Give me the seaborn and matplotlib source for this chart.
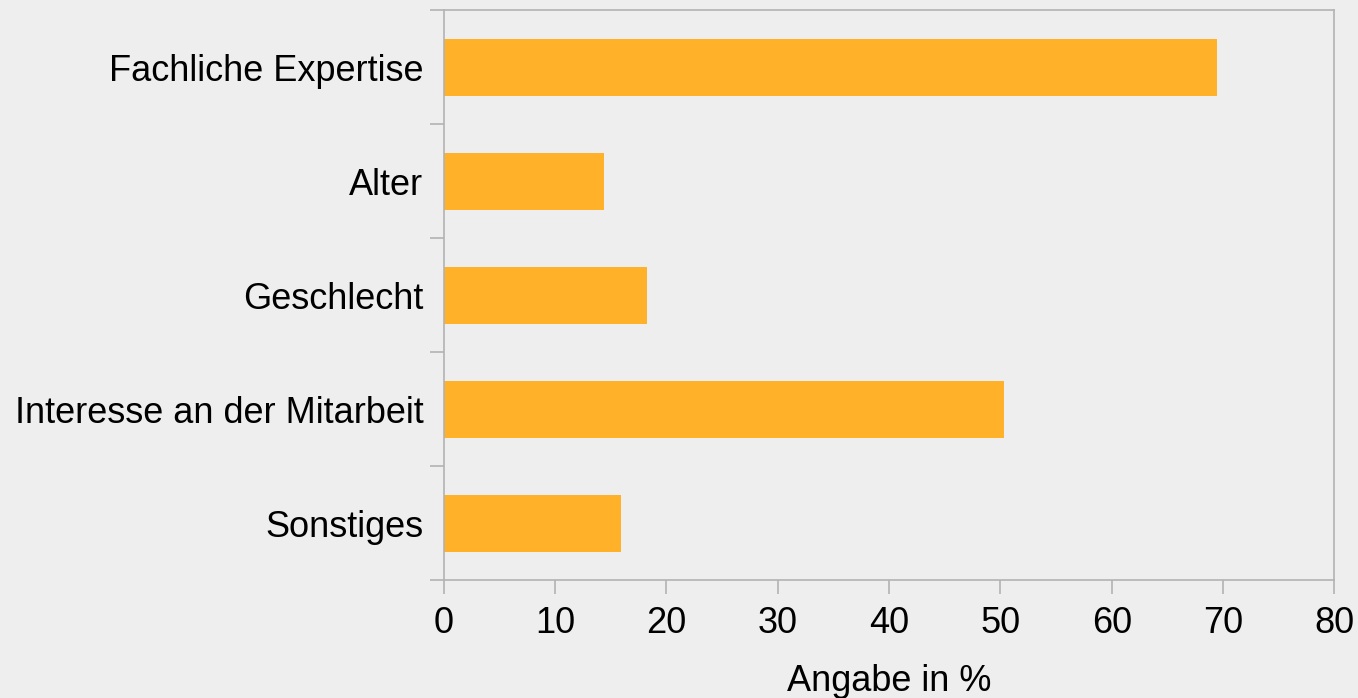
import matplotlib
matplotlib.use("Agg")
import matplotlib.pyplot as plt
import seaborn as sns
import pandas as pd
import numpy as np

categories = ["Fachliche Expertise", "Alter", "Geschlecht", "Interesse an der Mitarbeit", "Sonstiges"]
values = [69.5, 14.4, 18.3, 50.3, 15.9]
xticks = [0, 10, 20, 30, 40, 50, 60, 70, 80]

sns.set_theme(style="white")
plt.rcParams["font.family"] = ["Liberation Sans", "DejaVu Sans"]

df = pd.DataFrame({"cat": categories, "val": values})

fig = plt.figure(figsize=(13.58, 6.98), dpi=100, facecolor="#eeeeee")
ax = fig.add_axes([0.3267, 0.169, 0.9826 - 0.3267, 0.985 - 0.169])
ax.set_facecolor("#eeeeee")

sns.barplot(data=df, y="cat", x="val", orient="h", color="#ffb12a", saturation=1,
            width=0.5, linewidth=0, ax=ax)

ax.set_xlim(0, 80)
ax.set_ylim(4.5, -0.5)
ax.set_xticks(xticks)
ax.set_xticklabels([str(t) for t in xticks])
ax.set_ylabel("")
ax.set_xlabel("Angabe in %", fontsize=26, labelpad=16, color="black")

for s in ax.spines.values():
    s.set_visible(True)
    s.set_color("#b3b3b3")
    s.set_linewidth(1.2)

ax.tick_params(axis="x", which="major", length=10, width=1.2, color="#b3b3b3",
               labelsize=26, pad=9, labelcolor="black", bottom=True)
ax.tick_params(axis="y", which="major", length=0, labelsize=26, pad=14.5, labelcolor="black", left=True)
ax.set_yticks(np.arange(-0.5, 5.0, 1.0), minor=True)
ax.tick_params(axis="y", which="minor", length=10, width=1.2, color="#b3b3b3", left=True)

fig.savefig("out.png", dpi=100, facecolor="#eeeeee")
